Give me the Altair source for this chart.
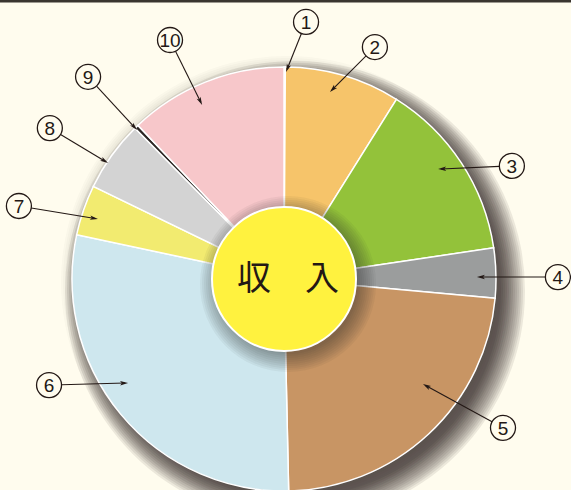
import altair as alt
import pandas as pd

# ---- data ----
labels = ["1", "2", "3", "4", "5", "6", "7", "8", "9", "10"]
shares = [0.1, 8.8, 13.75, 3.8, 23.2, 28.7, 3.85, 5.4, 0.3, 12.1]
colors = ["#e8a050", "#f6c46a", "#93c23a", "#9b9d9d", "#c89564",
          "#cee7ee", "#f2eb70", "#d3d3d3", "#2b2623", "#f7c7ca"]
center_text = "収　入"

# annotation anchors (polar: degrees clockwise from top, radius as fraction of pie radius)
tip_angle = [0.55, 13.8, 54.5, 89.4, 127.1, 236.3, 287.9, 303.4, 315.4, 334.8]
tip_radius = [0.976, 0.908, 0.893, 0.910, 0.822, 0.884, 0.922, 0.994, 0.987, 0.907]
label_angle = [4.9, 21.4, 63.6, 89.6, 124.2, 245.7, 285.4, 302.8, 315.9, 334.5]
label_radius = [1.217, 1.175, 1.200, 1.292, 1.249, 1.216, 1.297, 1.314, 1.328, 1.249]

# ---- layout ----
W, H = 571, 490
CX, CY, R = 284, 279, 212
RI = 72
RL = 12.5
BG = "#fffcee"
INK = "#231815"

xs = alt.Scale(domain=[-CX / R, (W - CX) / R], nice=False, zero=False)
ys = alt.Scale(domain=[-(H - CY) / R, CY / R], nice=False, zero=False)


def pos(xf, yf):
    return dict(x=alt.X(f"{xf}:Q", scale=xs, axis=None),
                y=alt.Y(f"{yf}:Q", scale=ys, axis=None))


# faint halo all around
halo = alt.Chart(pd.DataFrame({"k": list(range(8))})).transform_calculate(
    r=f"{R} + 2*datum.k", s="4*datum.r*datum.r",
    cx=f"{3 / R}", cy=f"{-3 / R}"
).mark_point(shape="circle", filled=True, color="#2b2520", opacity=0.025).encode(
    size=alt.Size("s:Q", scale=None, legend=None), **pos("cx", "cy"))

# directional drop shadow (Vega circle symbol: radius = sqrt(size)/2)
shadow = alt.Chart(pd.DataFrame({"k": list(range(13))})).transform_calculate(
    r=f"{R - 6} + 2*datum.k", s="4*datum.r*datum.r",
    cx=f"{11 / R}", cy=f"{-12 / R}"
).mark_point(shape="circle", filled=True, color="#2b2520", opacity=0.09).encode(
    size=alt.Size("s:Q", scale=None, legend=None), **pos("cx", "cy"))

pie_df = pd.DataFrame({"n": labels, "idx": list(range(1, 11)), "v": shares})
pie = alt.Chart(pie_df).transform_calculate(cx="0", cy="0").mark_arc(
    radius=R, stroke="white", strokeWidth=1.5
).encode(
    theta=alt.Theta("v:Q", stack=True),
    color=alt.Color("n:N", scale=alt.Scale(domain=labels, range=colors), legend=None),
    order=alt.Order("idx:Q"),
    **pos("cx", "cy"),
)

# inner circle shadow
ishadow = alt.Chart(pd.DataFrame({"k": list(range(10))})).transform_calculate(
    r=f"{RI - 2} + 2*datum.k", s="4*datum.r*datum.r",
    cx=f"{4 / R}", cy=f"{-5 / R}"
).mark_point(shape="circle", filled=True, color="#2b2520", opacity=0.05).encode(
    size=alt.Size("s:Q", scale=None, legend=None), **pos("cx", "cy"))

center = alt.Chart(pd.DataFrame({"t": [center_text]})).transform_calculate(
    cx="0", cy="0", s=f"4*{RI}*{RI}"
).mark_point(shape="circle", fill="#fff23f", stroke="white", strokeWidth=2,
             opacity=1, fillOpacity=1).encode(
    size=alt.Size("s:Q", scale=None, legend=None), **pos("cx", "cy"))

ctext = alt.Chart(pd.DataFrame({"t": [center_text]})).transform_calculate(
    cx="0", cy="0"
).mark_text(font="Noto Sans CJK JP", fontSize=34, color=INK, align="center",
            baseline="middle", dx=4, dy=1).encode(text="t:N", **pos("cx", "cy"))

ann_df = pd.DataFrame({"n": labels, "ta": tip_angle, "tr": tip_radius,
                       "la": label_angle, "lr": label_radius})
ann = alt.Chart(ann_df).transform_calculate(
    tx="datum.tr*sin(datum.ta*PI/180)", ty="datum.tr*cos(datum.ta*PI/180)",
    lx="datum.lr*sin(datum.la*PI/180)", ly="datum.lr*cos(datum.la*PI/180)",
).transform_calculate(
    ddx="datum.tx-datum.lx", ddy="datum.ty-datum.ly",
).transform_calculate(
    d="sqrt(datum.ddx*datum.ddx+datum.ddy*datum.ddy)",
    rot="(atan2(datum.ddx, datum.ddy)*180/PI + 360) % 360",
).transform_calculate(
    sx=f"datum.lx + datum.ddx*{RL / R}/datum.d",
    sy=f"datum.ly + datum.ddy*{RL / R}/datum.d",
    ex=f"datum.tx - datum.ddx*{3 / R}/datum.d",
    ey=f"datum.ty - datum.ddy*{3 / R}/datum.d",
)

lines = ann.mark_rule(color=INK, strokeWidth=1.1).encode(
    x=alt.X("sx:Q", scale=xs, axis=None), y=alt.Y("sy:Q", scale=ys, axis=None),
    x2="ex:Q", y2="ey:Q")

heads = ann.mark_point(shape="M0,0L0.55,2L0,1.55L-0.55,2Z", filled=True,
                       color=INK, size=64, opacity=1).encode(
    angle=alt.Angle("rot:Q", scale=None), **pos("tx", "ty"))

rings = ann.mark_point(shape="circle", fill=BG, stroke=INK, strokeWidth=1.3,
                       size=4 * RL * RL, opacity=1, fillOpacity=1).encode(**pos("lx", "ly"))

nums = ann.mark_text(font="Liberation Sans", fontSize=19,
                     color=INK, align="center", baseline="middle", dy=1).encode(
    text="n:N", **pos("lx", "ly"))

topline = alt.Chart(pd.DataFrame({"a": [0]})).mark_rule(
    color="#3a3530", strokeWidth=3).encode(
    x=alt.value(0), x2=alt.value(W), y=alt.value(1))

chart = alt.layer(halo, shadow, pie, ishadow, center, ctext, lines, heads, rings, nums,
                  topline).properties(
    width=W, height=H, background=BG, padding=0,
    autosize=alt.AutoSizeParams(type="none"),
).configure_view(stroke=None)

chart.save("out.html", embed_options={"renderer": "svg", "actions": False})
